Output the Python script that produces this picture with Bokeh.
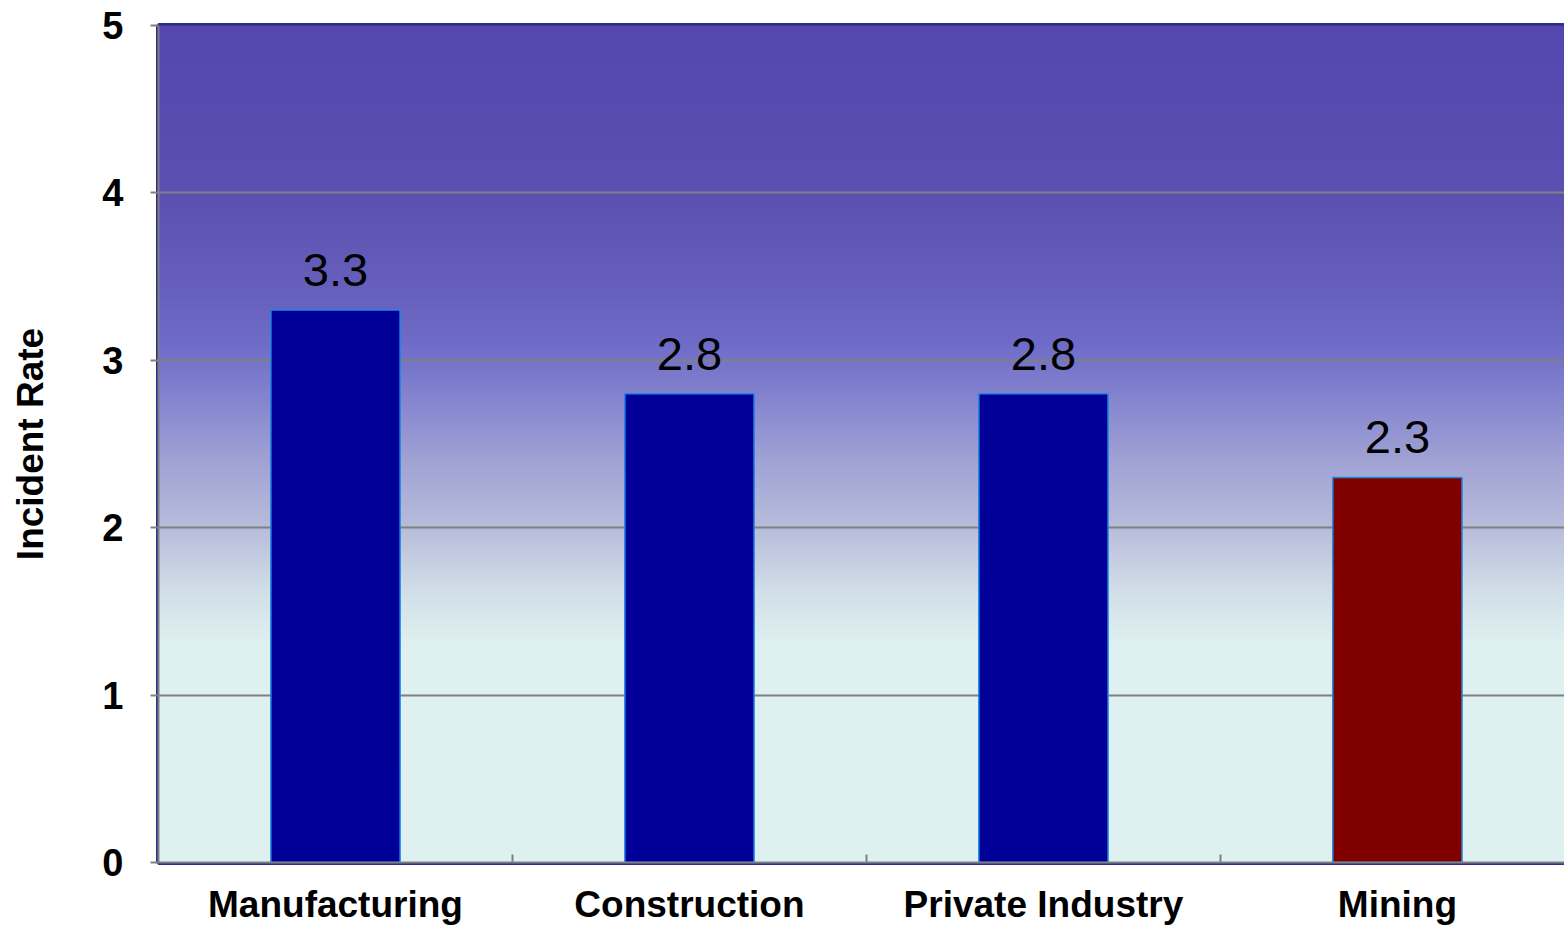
import numpy as np
from bokeh.plotting import figure
from bokeh.models import ColumnDataSource, FixedTicker, Range1d
from bokeh.core.properties import value
from bokeh.embed import file_html
from bokeh.resources import INLINE

# ---- data ----
categories = ["Manufacturing", "Construction", "Private Industry", "Mining"]
rates = [3.3, 2.8, 2.8, 2.3]
labels = ["3.3", "2.8", "2.8", "2.3"]
bar_colors = ["#000099", "#000099", "#000099", "#800000"]
y_ticks = [0, 1, 2, 3, 4, 5]

FONT = "Liberation Sans"

positions = [i + 0.5 for i in range(len(categories))]
src = ColumnDataSource(dict(x=positions, top=rates, color=bar_colors, label=labels))

p = figure(width=1564, height=929, output_backend="svg", toolbar_location=None,
           x_range=Range1d(0, 3.972), y_range=Range1d(0, 5),
           min_border_left=158, min_border_right=0, min_border_top=25,
           min_border_bottom=67)
p.background_fill_color = "white"
p.border_fill_color = "white"
p.outline_line_color = "#2E2E8A"
p.outline_line_width = 5

# background gradient (styling only)
stop_v = [0.0, 1.3, 1.6, 2.0, 2.4, 2.8, 3.1, 3.4, 4.0, 5.0]
stop_c = ["#DFF0F0", "#DEF0F0", "#D2E0E8", "#B8BCDA", "#A0A2D4", "#8282CE",
          "#6E6CC8", "#6660BC", "#5B50B0", "#5446AE"]
N = 600
vs = np.linspace(0, 5, N)
rgb = np.array([[int(c[i:i + 2], 16) for i in (1, 3, 5)] for c in stop_c], dtype=float)
chan = [np.interp(vs, stop_v, rgb[:, k]).round().astype(np.uint32) for k in range(3)]
col = (255 << 24) | (chan[2] << 16) | (chan[1] << 8) | chan[0]
img = np.repeat(col[:, None], 2, axis=1).astype(np.uint32)
p.image_rgba(image=[img], x=0, y=0, dw=4, dh=5, level="image")

# grid
p.xgrid.grid_line_color = None
p.ygrid.grid_line_color = "#808080"
p.ygrid.grid_line_width = 2
p.ygrid.ticker = FixedTicker(ticks=y_ticks)
p.ygrid.level = "underlay"

# bars
p.vbar(x="x", top="top", width=0.365, bottom=0, source=src,
       fill_color="color", line_color="#1E88E5", line_width=1.5)

# value labels
p.text(x="x", y="top", text="label", source=src, text_align="center",
       text_baseline="alphabetic", y_offset=-40,
       text_font=value(FONT), text_font_size="47px", text_color="#000000")

# x axis
xa = p.xaxis[0]
xa.ticker = FixedTicker(ticks=positions, minor_ticks=[1, 2, 3])
xa.major_label_overrides = {pos: c for pos, c in zip(positions, categories)}
xa.major_tick_line_color = None
xa.minor_tick_in = 8
xa.minor_tick_out = 0
xa.minor_tick_line_color = "#808080"
xa.minor_tick_line_width = 2
xa.axis_line_color = "#808080"
xa.axis_line_width = 2
xa.major_label_text_font = FONT
xa.major_label_text_font_style = "bold"
xa.major_label_text_font_size = "37px"
xa.major_label_text_color = "#000000"
xa.major_label_standoff = 15

# y axis
ya = p.yaxis[0]
ya.ticker = FixedTicker(ticks=y_ticks)
ya.minor_tick_line_color = None
ya.major_tick_in = 0
ya.major_tick_out = 8
ya.major_tick_line_color = "#808080"
ya.major_tick_line_width = 2
ya.axis_line_color = "#808080"
ya.axis_line_width = 2
ya.major_label_text_font = FONT
ya.major_label_text_font_style = "bold"
ya.major_label_text_font_size = "38px"
ya.major_label_text_color = "#000000"
ya.major_label_standoff = 27
ya.axis_label = "Incident Rate"
ya.axis_label_text_font = FONT
ya.axis_label_text_font_style = "bold"
ya.axis_label_text_font_size = "37px"
ya.axis_label_text_color = "#000000"
ya.axis_label_standoff = 48

open("out.html", "w").write(file_html(p, INLINE))
